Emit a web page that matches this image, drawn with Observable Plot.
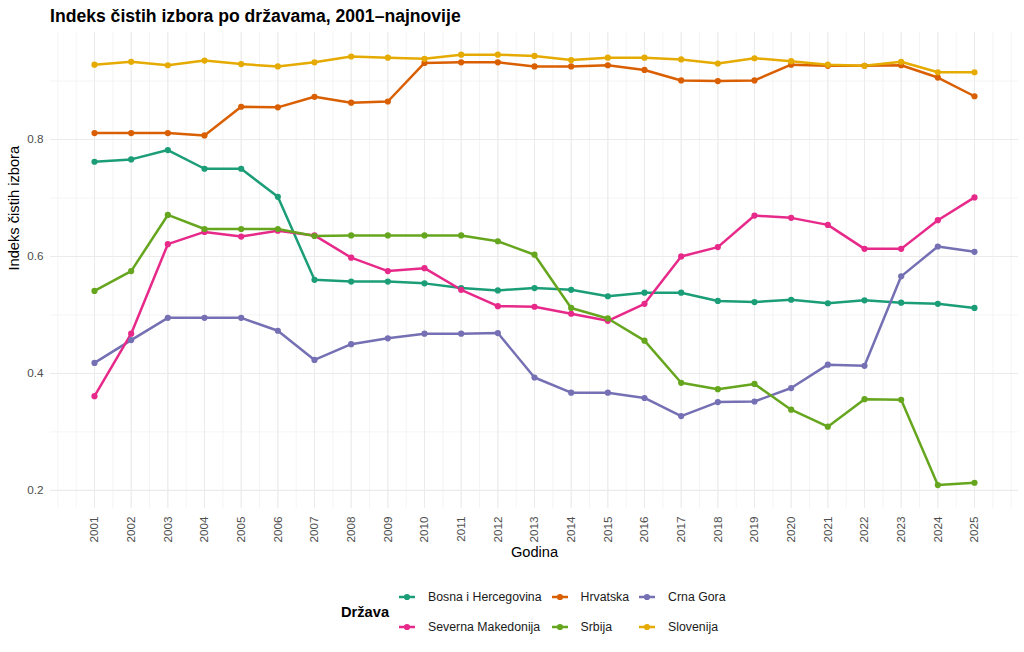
<!DOCTYPE html>
<html><head><meta charset="utf-8">
<script src="https://cdn.jsdelivr.net/npm/d3@7"></script>
<script src="https://cdn.jsdelivr.net/npm/@observablehq/plot@0.6"></script>
<style>
body{margin:0;background:#fff;font-family:"Liberation Sans",Arial,sans-serif;width:1024px;height:652px;overflow:hidden}
#title{height:28px;padding-left:50px;font-weight:bold;font-size:17.6px;line-height:33px;color:#000;box-sizing:border-box;white-space:nowrap}
#chart{height:540px}
#chart svg{display:block}
#legend{display:flex;align-items:center;padding-left:341px;padding-top:4px;height:84px;box-sizing:border-box}
#legend .lt{font-weight:bold;font-size:14.67px;color:#000;margin-right:10px}
#legend .grid{display:grid;grid-template-columns:auto auto auto;grid-auto-rows:30.3px;column-gap:10px;align-items:center}
#legend .it{display:flex;align-items:center;font-size:12.3px;color:#1a1a1a;white-space:nowrap}
#legend .it svg{margin-right:13px}
</style></head>
<body>
<div id="title">Indeks čistih izbora po državama, 2001–najnovije</div>
<div id="chart"></div>
<div id="legend"></div>
<script>
const years = [2001,2002,2003,2004,2005,2006,2007,2008,2009,2010,2011,2012,2013,2014,2015,2016,2017,2018,2019,2020,2021,2022,2023,2024,2025];
const countries = ["Bosna i Hercegovina","Hrvatska","Crna Gora","Severna Makedonija","Srbija","Slovenija"];
const colors = ["#1B9E77","#D95F02","#7570B3","#E7298A","#66A61E","#E6AB02"];
const bih       = [0.762,0.766,0.782,0.750,0.750,0.702,0.560,0.557,0.557,0.554,0.546,0.542,0.546,0.543,0.532,0.538,0.538,0.524,0.522,0.526,0.520,0.525,0.521,0.519,0.512];
const hrvatska  = [0.811,0.811,0.811,0.807,0.856,0.855,0.873,0.863,0.865,0.931,0.932,0.932,0.925,0.925,0.927,0.919,0.901,0.900,0.901,0.928,0.926,0.926,0.927,0.906,0.874];
const crnaGora  = [0.418,0.457,0.495,0.495,0.495,0.473,0.423,0.450,0.460,0.468,0.468,0.469,0.393,0.367,0.367,0.358,0.327,0.351,0.352,0.375,0.415,0.413,0.566,0.617,0.608];
const sevMak    = [0.361,0.468,0.621,0.642,0.634,0.644,0.636,0.598,0.575,0.580,0.543,0.515,0.514,0.502,0.490,0.519,0.600,0.616,0.670,0.666,0.654,0.613,0.613,0.662,0.701];
const srbija    = [0.541,0.575,0.671,0.647,0.647,0.647,0.635,0.636,0.636,0.636,0.636,0.626,0.603,0.512,0.494,0.456,0.384,0.373,0.382,0.338,0.309,0.356,0.355,0.209,0.213];
const slovenija = [0.928,0.933,0.927,0.935,0.929,0.925,0.932,0.942,0.940,0.938,0.945,0.945,0.943,0.936,0.940,0.940,0.937,0.930,0.939,0.934,0.928,0.926,0.933,0.915,0.915];
const yTicks = [0.2,0.4,0.6,0.8];
const yMinor = [0.3,0.5,0.7,0.9];
const xTitle = "Godina";
const yTitle = "Indeks čistih izbora";
const legendTitle = "Država";

const series = [bih, hrvatska, crnaGora, sevMak, srbija, slovenija];
const data = countries.flatMap((c,i) => years.map((yr,j) => ({country:c, year:yr, value:series[i][j]})));
const xMinor = d3.range(2000, 2026.01, 0.5);

const chart = Plot.plot({
  width:1024, height:540,
  marginLeft:50, marginRight:6, marginTop:4, marginBottom:60,
  x:{domain:[1999.8,2026.2]},
  y:{domain:[0.169,0.983]},
  color:{domain:countries, range:colors},
  style:{fontFamily:'"Liberation Sans",Arial,sans-serif', fontSize:"11.7px", color:"#4d4d4d", background:"#fff"},
  marks:[
    Plot.ruleX(xMinor,{stroke:"#ebebeb", strokeWidth:0.55}),
    Plot.ruleX(years,{stroke:"#ebebeb", strokeWidth:1.07}),
    Plot.ruleY(yMinor,{stroke:"#ebebeb", strokeWidth:0.55}),
    Plot.ruleY(yTicks,{stroke:"#ebebeb", strokeWidth:1.07}),
    Plot.axisX(years,{tickRotate:-90, tickSize:0, tickPadding:8, tickFormat:d=>String(d), label:null}),
    Plot.axisY(yTicks,{tickSize:0, tickPadding:7, tickFormat:d=>d.toFixed(1), label:null}),
    Plot.line(data,{x:"year", y:"value", z:"country", stroke:"country", strokeWidth:2.5}),
    Plot.dot(data,{x:"year", y:"value", fill:"country", r:3.1}),
    Plot.text([xTitle],{frameAnchor:"bottom", dy:48, fontSize:14.67, fill:"#000"}),
    Plot.text([yTitle],{frameAnchor:"left", dx:-36, rotate:-90, fontSize:14.67, fill:"#000"})
  ]
});
document.getElementById("chart").appendChild(chart);

const lg = document.getElementById("legend");
const lt = document.createElement("div"); lt.className="lt"; lt.textContent=legendTitle; lg.appendChild(lt);
const grid = document.createElement("div"); grid.className="grid"; lg.appendChild(grid);
countries.forEach((c,i)=>{
  const it = document.createElement("div"); it.className="it";
  it.innerHTML = `<svg width="16" height="12"><line x1="0" x2="16" y1="6" y2="6" stroke="${colors[i]}" stroke-width="2.5"/><circle cx="8" cy="6" r="3.1" fill="${colors[i]}"/></svg>`;
  const s = document.createElement("span"); s.textContent = c; it.appendChild(s);
  grid.appendChild(it);
});
</script>
</body></html>
